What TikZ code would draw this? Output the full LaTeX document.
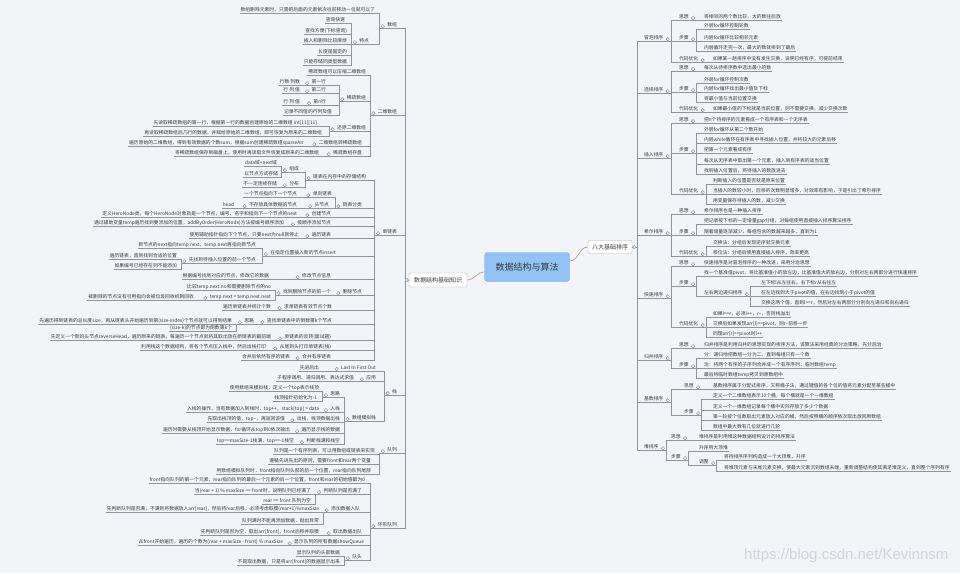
\documentclass[tikz,border=0pt]{standalone}
\usepackage{fontspec}
\setmainfont{Noto Sans CJK SC}
\newfontfamily\wmfont{Liberation Sans}
\usetikzlibrary{calc}
\definecolor{bgc}{HTML}{F3F4F8}
\definecolor{linec}{HTML}{8F959D}
\definecolor{txtc}{HTML}{3A3A3A}
\definecolor{rootc}{HTML}{92C3F4}
\definecolor{rootl}{HTML}{D98473}
\definecolor{wmc}{HTML}{D3D5DB}

\tikzset{
  ln/.style={draw=linec, line width=0.5pt},
  lbl/.style={font=\fontsize{4.8}{5}\selectfont, text=txtc, inner xsep=0.8pt, inner ysep=0.8pt,
    append after command={(\tikzlastnode.south west) edge[ln] (\tikzlastnode.south east)}},
  ll/.style={lbl, anchor=east},
  rl/.style={lbl, anchor=west},
  tg/.style={draw=linec, fill=bgc, line width=0.45pt},
  rootbox/.style={fill=rootc, draw=rootc!85!blue, rounded corners=3pt, minimum width=85pt,
    minimum height=29pt, font=\fontsize{9}{10}\selectfont, text=txtc},
  mainbox/.style={fill=white, draw=linec!70, rounded corners=2pt, inner xsep=5pt,
    minimum height=14pt, font=\fontsize{6}{7}\selectfont, text=txtc},
  rootlk/.style={draw=rootl, line width=0.6pt},
}
\newcommand{\lks}[2]{\foreach \kid in {#2}{\draw[ln] (#1.south west) -- ++(-7,0) |- (\kid.south east);}}
\newcommand{\rks}[2]{\foreach \kid in {#2}{\draw[ln] (#1.south east) -- ++(7,0) |- (\kid.south west);}}

\begin{document}
\begin{tikzpicture}[x=1pt,y=-1pt]
  \useasboundingbox (0,0) rectangle (960,573);
  \fill[bgc] (0,0) rectangle (960,573);

  % centre
  \node[rootbox] (root) at (527,267) {数据结构与算法};
  \node[mainbox] (lroot) at (438,280) {数据结构基础知识};
  \node[mainbox, inner xsep=4pt, minimum height=13pt] (rroot) at (610,247) {八大基础排序};
  \draw[rootlk] ([yshift=-5pt]root.west) to[out=180,in=0] (lroot.east);
  \draw[rootlk] ([yshift=6pt]root.east) to[out=0,in=180] (rroot.west);

  % ---------- left ----------
  \node[ll] (a) at (398,25) {数组};
  \node[ll] (b) at (398,112) {二维数组};
  \node[ll] (c) at (398,232) {单链表};
  \node[ll] (d) at (398,392) {栈};
  \node[ll] (e) at (398,450) {队列};
  \node[ll] (f) at (398,525) {环形队列};
  \coordinate (ltr) at ([xshift=-4pt]lroot.west);
  \foreach \kid in {a,b,c,d,e,f} \draw[ln] (lroot.west) -- (ltr) |- (\kid.south east);

  % array
  \node[ll] (a1) at (376,10) {数组删除元素时，只需把后面的元素依次往前移动一位就可以了};
  \node[ll] (a2) at (370,41) {特点};
  \node[ll] (a21) at (346,20) {查询快速};
  \node[ll] (a22) at (348,31) {查找方便(下标查询)};
  \node[ll] (a23) at (348,41) {插入和删除比较麻烦};
  \node[ll] (a24) at (348,52) {长度是固定的};
  \node[ll] (a25) at (348,62) {只能存储同类型数据};
  \lks{a}{a1,a2}
  \lks{a2}{a21,a22,a23,a24,a25}

  % 2d array
  \node[ll] (b1) at (367,72) {稀疏数组可以压缩二维数组};
  \node[ll] (b2) at (367,98) {稀疏数组};
  \node[ll] (b21) at (327,82) {第一行};
  \node[ll] (b21a) at (301,82) {行数 列数};
  \node[ll] (b22) at (327,90) {第二行};
  \node[ll] (b22a) at (301,90) {行 列 值};
  \node[ll] (b23) at (327,102) {第n行};
  \node[ll] (b23a) at (301,102) {行 列 值};
  \node[ll] (b24) at (333,112) {记录不同值的行列及值};
  \node[ll] (b3) at (367,128) {还原二维数组};
  \node[ll] (b31) at (318,123) {先读取稀疏数组的第一行，根据第一行的数据创建原始的二维数组 int[11][11]};
  \node[ll] (b32) at (323,133) {再读取稀疏数组后几行的数据，并赋给原始的二维数组，即可恢复为原来的二维数组};
  \node[ll] (b4) at (363,143) {二维数组转稀疏数组};
  \node[ll] (b41) at (305,143) {遍历原始的二维数组，得到有效数据的个数sum，根据sum创建稀疏数组sparseArr};
  \node[ll] (b5) at (363,153) {稀疏数组存盘};
  \node[ll] (b51) at (320,153) {将稀疏数组保存到磁盘上，使用时再读取文件恢复成原来的二维数组};
  \lks{b}{b1,b2,b3,b4,b5}
  \lks{b2}{b21,b22,b23,b24}
  \lks{b21}{b21a} \lks{b22}{b22a} \lks{b23}{b23a}
  \lks{b3}{b31,b32} \lks{b4}{b41} \lks{b5}{b51}

  % linked list
  \node[ll] (c1) at (367,177) {链表在内存中的存储结构};
  \node[ll] (c1a) at (300,169) {组成};
  \node[ll] (c1a1) at (278,163) {data域+next域};
  \node[ll] (c1a2) at (279,174) {以节点方式存储};
  \node[ll] (c1b) at (300,184) {分布};
  \node[ll] (c1b1) at (278,184) {不一定连续存储};
  \node[ll] (c2) at (363,205) {链表分类};
  \node[ll] (c2a) at (333,194) {单向链表};
  \node[ll] (c2a1) at (298,194) {一个节点指向下一个节点};
  \node[ll] (c2b) at (330,205) {头节点};
  \node[ll] (c2b1) at (298,205) {不存放具体数据的节点};
  \node[ll] (c2b1a) at (235,205) {head};
  \node[ll] (c3) at (332,214) {创建节点};
  \node[ll] (c31) at (298,214) {定义HeroNode类，每个HeroNode对象就是一个节点，编号、名字和指向下一个节点的next};
  \node[ll] (c4) at (332,223) {按顺序添加节点};
  \node[ll] (c41) at (285,223) {通过辅助变量temp遍历找到要添加的位置，addByOrder(HeroNode)方法按编号顺序添加};
  \node[ll] (c5) at (332,235) {遍历链表};
  \node[ll] (c51) at (300,235) {使用辅助指针指向下个节点，只要next为null就停止};
  \node[ll] (c6) at (337,253) {在指定位置插入新的节点insert};
  \node[ll] (c61) at (257,245) {新节点的next指向temp.next，temp.next再指向新节点};
  \node[ll] (c62) at (257,260) {先找到待插入位置的前一个节点};
  \node[ll] (c62a) at (178,256) {遍历链表，直到找到合适的位置};
  \node[ll] (c62b) at (178,266) {如果编号已经存在则不能添加};
  \node[ll] (c7) at (332,276) {修改节点信息};
  \node[ll] (c71) at (270,276) {根据编号找到对应的节点，修改它的数据};
  \node[ll] (c8) at (363,292) {删除节点};
  \node[ll] (c81) at (332,292) {找到删除节点的前一个};
  \node[ll] (c81a) at (272,287) {比较temp.next.no和需要删除节点的no};
  \node[ll] (c81b) at (272,297) {temp.next = temp.next.next};
  \node[ll] (c81b1) at (195,297) {被删除的节点没有引用指向会被垃圾回收机制回收};
  \node[ll] (c9) at (333,307) {求单链表有效节点个数};
  \node[ll] (c91) at (272,307) {遍历单链表并统计个数};
  \node[ll] (c10) at (333,321) {查找单链表中的倒数第k个节点};
  \node[ll] (c10a) at (255,321) {思路};
  \node[ll] (c10a1) at (233,321) {先遍历得到链表的总长度size，再从链表头开始遍历到第(size-index)个节点就可以得到结果};
  \node[ll] (c10a2) at (233,328) {(size-k)的节点即为倒数第k个};
  \node[ll] (c11) at (332,337) {单链表的反转(面试题)};
  \node[ll] (c11a) at (272,337) {先定义一个新的头节点reverseHead，遍历原来的链表，每遍历一个节点就将其取出放在新链表的最前端};
  \node[ll] (c12) at (332,347) {从尾到头打印单链表(栈)};
  \node[ll] (c12a) at (267,347) {利用栈这个数据结构，将各个节点压入栈中，然后出栈打印};
  \node[ll] (c13) at (332,357) {合并有序链表};
  \node[ll] (c13a) at (291,357) {合并后依然有序的链表};
  \lks{c}{c1,c2,c3,c4,c5,c6,c7,c8,c9,c10,c11,c12,c13}
  \lks{c1}{c1a,c1b} \lks{c1a}{c1a1,c1a2} \lks{c1b}{c1b1}
  \lks{c2}{c2a,c2b} \lks{c2a}{c2a1} \lks{c2b}{c2b1} \lks{c2b1}{c2b1a}
  \lks{c3}{c31} \lks{c4}{c41} \lks{c5}{c51}
  \lks{c6}{c61,c62} \lks{c62}{c62a,c62b}
  \lks{c7}{c71} \lks{c8}{c81} \lks{c81}{c81a,c81b} \lks{c81b}{c81b1}
  \lks{c9}{c91} \lks{c10}{c10a} \lks{c10a}{c10a1,c10a2}
  \lks{c11}{c11a} \lks{c12}{c12a} \lks{c13}{c13a}

  % stack
  \node[ll] (d1) at (377,368) {Last In First Out};
  \node[ll] (d1a) at (320,368) {先进后出};
  \node[ll] (d2) at (377,378) {应用};
  \node[ll] (d2a) at (355,378) {子程序调用、递归调用、表达式求值};
  \node[ll] (d3) at (377,418) {数组模拟栈};
  \node[ll] (d3a) at (341,394) {思路};
  \node[ll] (d3a1) at (320,388) {使用数组来模拟栈，定义一个top表示栈顶};
  \node[ll] (d3a2) at (318,398) {栈顶指针初始化为-1};
  \node[ll] (d3b) at (341,409) {入栈};
  \node[ll] (d3b1) at (320,409) {入栈的操作，当有数据加入到栈时，top++，stack[top] = data};
  \node[ll] (d3c) at (341,419) {出栈，栈顶数据出栈};
  \node[ll] (d3c1) at (286,419) {先取出栈顶的值，top--，再返回该值};
  \node[ll] (d3d) at (341,430) {遍历显示栈的数据};
  \node[ll] (d3d1) at (291,430) {遍历时需要从栈顶开始显示数据，for循环从top到0依次输出};
  \node[ll] (d3e) at (341,441) {判断栈满和栈空};
  \node[ll] (d3e1) at (295,441) {top==maxSize-1栈满，top==-1栈空};
  \lks{d}{d1,d2,d3} \lks{d1}{d1a} \lks{d2}{d2a}
  \lks{d3}{d3a,d3b,d3c,d3d,d3e}
  \lks{d3a}{d3a1,d3a2} \lks{d3b}{d3b1} \lks{d3c}{d3c1} \lks{d3d}{d3d1} \lks{d3e}{d3e1}

  % queue
  \node[ll] (e1) at (376,451) {队列是一个有序列表，可以用数组或链表来实现};
  \node[ll] (e2) at (372,461) {遵循先进先出的原则，需要front和rear两个变量};
  \node[ll] (e3) at (372,471) {用数组模拟队列时，front指向队列头部的前一个位置，rear指向队列尾部};
  \lks{e}{e1,e2,e3}

  % circular queue
  \node[ll] (f1) at (366,480) {front指向队列的第一个元素，rear指向队列的最后一个元素的后一个位置，front和rear的初始值都为0};
  \node[ll] (f2) at (363,491) {判断队列是否满了};
  \node[ll] (f2a) at (312,491) {当(rear + 1) \% maxSize == front时，说明队列已经满了};
  \node[ll] (f2b) at (312,501) {rear == front 队列为空};
  \node[ll] (f3) at (361,509) {添加数据入队};
  \node[ll] (f3a) at (320,509) {先判断队列是否满，不满则将数据放入arr[rear]，然后将rear后移，必须考虑取模(rear+1)\%maxSize};
  \node[ll] (f3b) at (320,521) {队列满时不能再添加数据，抛出异常};
  \node[ll] (f4) at (363,532) {取出数据出队};
  \node[ll] (f4a) at (320,532) {先判断队列是否为空，取出arr[front]，front后移并取模};
  \node[ll] (f5) at (365,542) {显示队列的所有数据showQueue};
  \node[ll] (f5a) at (284,542) {从front开始遍历，遍历的个数为(rear + maxSize - front) \% maxSize};
  \node[ll] (f6) at (363,557) {队头};
  \node[ll] (f6a) at (341,553) {显示队列的头部数据};
  \node[ll] (f6b) at (341,562) {不是取出数据，只是将arr[front]的数据显示出来};
  \lks{f}{f1,f2,f3,f4,f5,f6}
  \lks{f2}{f2a,f2b} \lks{f3}{f3a,f3b} \lks{f4}{f4a} \lks{f5}{f5a} \lks{f6}{f6a,f6b}

  % ---------- right ----------
  \node[rl] (r1) at (643,38) {冒泡排序};
  \node[rl] (r2) at (643,90) {选择排序};
  \node[rl] (r3) at (643,155) {插入排序};
  \node[rl] (r4) at (643,232) {希尔排序};
  \node[rl] (r5) at (643,295) {快速排序};
  \node[rl] (r6) at (643,357) {归并排序};
  \node[rl] (r7) at (643,399) {基数排序};
  \node[rl] (r8) at (643,447) {堆排序};
  \coordinate (rtr) at ([xshift=5pt]rroot.east);
  \foreach \kid in {r1,r2,r3,r4,r5,r6,r7,r8} \draw[ln] (rroot.east) -- (rtr) |- (\kid.south west);

  % bubble
  \node[rl] (r1a) at (678,17) {思想};
  \node[rl] (r1a1) at (703,17) {将相邻的两个数比较，大的数往后放};
  \node[rl] (r1b) at (678,38) {步骤};
  \node[rl] (r1b1) at (703,26) {外层for循环控制轮数};
  \node[rl] (r1b2) at (703,38) {内层for循环比较相邻元素};
  \node[rl] (r1b3) at (703,48) {内层循环走完一次，最大的数就排到了最后};
  \node[rl] (r1c) at (678,59) {代码优化};
  \node[rl] (r1c1) at (712,59) {如果某一趟排序中没有发生交换，说明已经有序，可提前结束};
  \rks{r1}{r1a,r1b,r1c} \rks{r1a}{r1a1} \rks{r1b}{r1b1,r1b2,r1b3} \rks{r1c}{r1c1}

  % selection
  \node[rl] (r2a) at (678,68) {思想};
  \node[rl] (r2a1) at (703,68) {每次从待排序数中选出最小的数};
  \node[rl] (r2b) at (678,89) {步骤};
  \node[rl] (r2b1) at (703,80) {外层for循环控制次数};
  \node[rl] (r2b2) at (703,89) {内层for循环找出最小值及下标};
  \node[rl] (r2b3) at (703,99) {将最小值与当前位置交换};
  \node[rl] (r2c) at (678,109) {代码优化};
  \node[rl] (r2c1) at (712,109) {如果最小值的下标就是当前位置，则不需要交换，减少交换次数};
  \rks{r2}{r2a,r2b,r2c} \rks{r2a}{r2a1} \rks{r2b}{r2b1,r2b2,r2b3} \rks{r2c}{r2c1}

  % insertion
  \node[rl] (r3a) at (678,120) {思想};
  \node[rl] (r3a1) at (703,120) {把n个待排序的元素看成一个有序表和一个无序表};
  \node[rl] (r3b) at (678,150) {步骤};
  \node[rl] (r3b1) at (703,130) {外层for循环从第二个数开始};
  \node[rl] (r3b2) at (703,140) {内层while循环在有序表中寻找插入位置，并将较大的元素后移};
  \node[rl] (r3b3) at (703,150) {把第一个元素看成有序};
  \node[rl] (r3b4) at (703,161) {每次从无序表中取出第一个元素，插入到有序表的适当位置};
  \node[rl] (r3b5) at (703,171) {找到插入位置后，将待插入的数放进去};
  \node[rl] (r3c) at (678,191) {代码优化};
  \node[rl] (r3c1) at (712,181) {判断插入的位置是否就是原来位置};
  \node[rl] (r3c2) at (712,191) {当插入的数较小时，后移的次数明显增多，对效率有影响，于是引出了希尔排序};
  \node[rl] (r3c3) at (712,201) {用变量保存待插入的数，减少交换};
  \rks{r3}{r3a,r3b,r3c} \rks{r3a}{r3a1} \rks{r3b}{r3b1,r3b2,r3b3,r3b4,r3b5} \rks{r3c}{r3c1,r3c2,r3c3}

  % shell
  \node[rl] (r4a) at (678,211) {思想};
  \node[rl] (r4a1) at (703,211) {希尔排序也是一种插入排序};
  \node[rl] (r4b) at (678,232) {步骤};
  \node[rl] (r4b1) at (703,221) {把记录按下标的一定增量gap分组，对每组使用直接插入排序算法排序};
  \node[rl] (r4b2) at (703,232) {随着增量逐渐减少，每组包含的数越来越多，直到为1};
  \node[rl] (r4c) at (678,253) {代码优化};
  \node[rl] (r4c1) at (712,243) {交换法：分组后发现逆序就交换元素};
  \node[rl] (r4c2) at (712,253) {移位法：分组后使用直接插入排序，效率更高};
  \rks{r4}{r4a,r4b,r4c} \rks{r4a}{r4a1} \rks{r4b}{r4b1,r4b2} \rks{r4c}{r4c1,r4c2}

  % quick
  \node[rl] (r5a) at (678,263) {思想};
  \node[rl] (r5a1) at (703,263) {快速排序是对冒泡排序的一种改进，采用分治思想};
  \node[rl] (r5b) at (678,283) {步骤};
  \node[rl] (r5b1) at (703,273) {找一个基准值pivot，将比基准值小的放左边，比基准值大的放右边，分别对左右两部分进行快速排序};
  \node[rl] (r5b2) at (703,293) {左右两边递归排序};
  \node[rl] (r5b21) at (760,283) {左下标l从左往右，右下标r从右往左};
  \node[rl] (r5b22) at (760,293) {在左边找到大于pivot的值，在右边找到小于pivot的值};
  \node[rl] (r5b23) at (760,303) {交换这两个值，直到l>=r，然后对左右两部分分别向左递归和向右递归};
  \node[rl] (r5c) at (678,324) {代码优化};
  \node[rl] (r5c1) at (712,314) {如果l==r，必须l++，r--，否则栈溢出};
  \node[rl] (r5c2) at (712,324) {交换后如果发现arr[l]==pivot，则r--前移一步};
  \node[rl] (r5c3) at (712,334) {同理arr[r]==pivot时l++};
  \rks{r5}{r5a,r5b,r5c} \rks{r5a}{r5a1} \rks{r5b}{r5b1,r5b2} \rks{r5b2}{r5b21,r5b22,r5b23} \rks{r5c}{r5c1,r5c2,r5c3}

  % merge
  \node[rl] (r6a) at (678,345) {思想};
  \node[rl] (r6a1) at (703,345) {归并排序是利用归并的思想实现的排序方法，该算法采用经典的分治策略，先分后治};
  \node[rl] (r6b) at (678,365) {步骤};
  \node[rl] (r6b1) at (703,355) {分：递归地把数组一分为二，直到每组只有一个数};
  \node[rl] (r6b2) at (703,365) {治：将两个有序的子序列合并成一个有序序列，临时数组temp};
  \node[rl] (r6b3) at (703,375) {最后将临时数组temp拷贝到原数组中};
  \rks{r6}{r6a,r6b} \rks{r6a}{r6a1} \rks{r6b}{r6b1,r6b2,r6b3}

  % radix
  \node[rl] (r7a) at (683,386) {思想};
  \node[rl] (r7a1) at (712,386) {基数排序属于分配式排序，又称桶子法，通过键值的各个位的值将元素分配至某些桶中};
  \node[rl] (r7b) at (683,412) {步骤};
  \node[rl] (r7b1) at (712,396) {定义一个二维数组表示10个桶，每个桶就是一个一维数组};
  \node[rl] (r7b2) at (712,407) {定义一个一维数组记录每个桶中实际存放了多少个数据};
  \node[rl] (r7b3) at (712,417) {第一轮按个位数取出元素放入对应的桶，然后按照桶的顺序依次取出放回原数组};
  \node[rl] (r7b4) at (712,427) {数组中最大数有几位就进行几轮};
  \rks{r7}{r7a,r7b} \rks{r7a}{r7a1} \rks{r7b}{r7b1,r7b2,r7b3,r7b4}

  % heap
  \node[rl] (r8a) at (670,437) {思想};
  \node[rl] (r8a1) at (698,437) {堆排序是利用堆这种数据结构设计的排序算法};
  \node[rl] (r8b) at (670,457) {步骤};
  \node[rl] (r8b1) at (698,448) {升序用大顶堆};
  \node[rl] (r8b2) at (698,462) {调整};
  \node[rl] (r8b21) at (723,457) {将待排序序列构造成一个大顶堆，升序};
  \node[rl] (r8b22) at (723,468) {将堆顶元素与末尾元素交换，使最大元素沉到数组末端，重新调整结构使其满足堆定义，直到整个序列有序};
  \rks{r8}{r8a,r8b} \rks{r8a}{r8a1} \rks{r8b}{r8b1,r8b2} \rks{r8b2}{r8b21,r8b22}

  % toggles
  \foreach \n in {a,b,c,d,e,f,a2,b2,b21,b22,b23,b3,b4,b5,c1,c1a,c1b,c2,c2a,c2b,c2b1,c3,c4,c5,c6,c62,c7,c8,c81,c81b,c9,c10,c10a,c11,c12,c13,d1,d2,d3,d3a,d3b,d3c,d3d,d3e,f2,f3,f4,f5,f6}
    \draw[tg] ([shift={(-3.5,-2)}]\n.south west) circle (1.7pt);
  \foreach \n in {r1,r2,r3,r4,r5,r6,r7,r8,r1a,r1b,r1c,r2a,r2b,r2c,r3a,r3b,r3c,r4a,r4b,r4c,r5a,r5b,r5c,r5b2,r6a,r6b,r7a,r7b,r8a,r8b,r8b2}
    \draw[tg] ([shift={(3.5,-2)}]\n.south east) circle (1.7pt);
  \draw[tg] ([xshift=-2pt]lroot.west) circle (1.7pt);
  \draw[tg] ([xshift=2pt]rroot.east) circle (1.7pt);

  \node[text=wmc, font=\wmfont\fontsize{15}{16}\selectfont, anchor=east] (wm) at (952,556) {https://blog.csdn.net/Kevinnsm};
\end{tikzpicture}
\end{document}
